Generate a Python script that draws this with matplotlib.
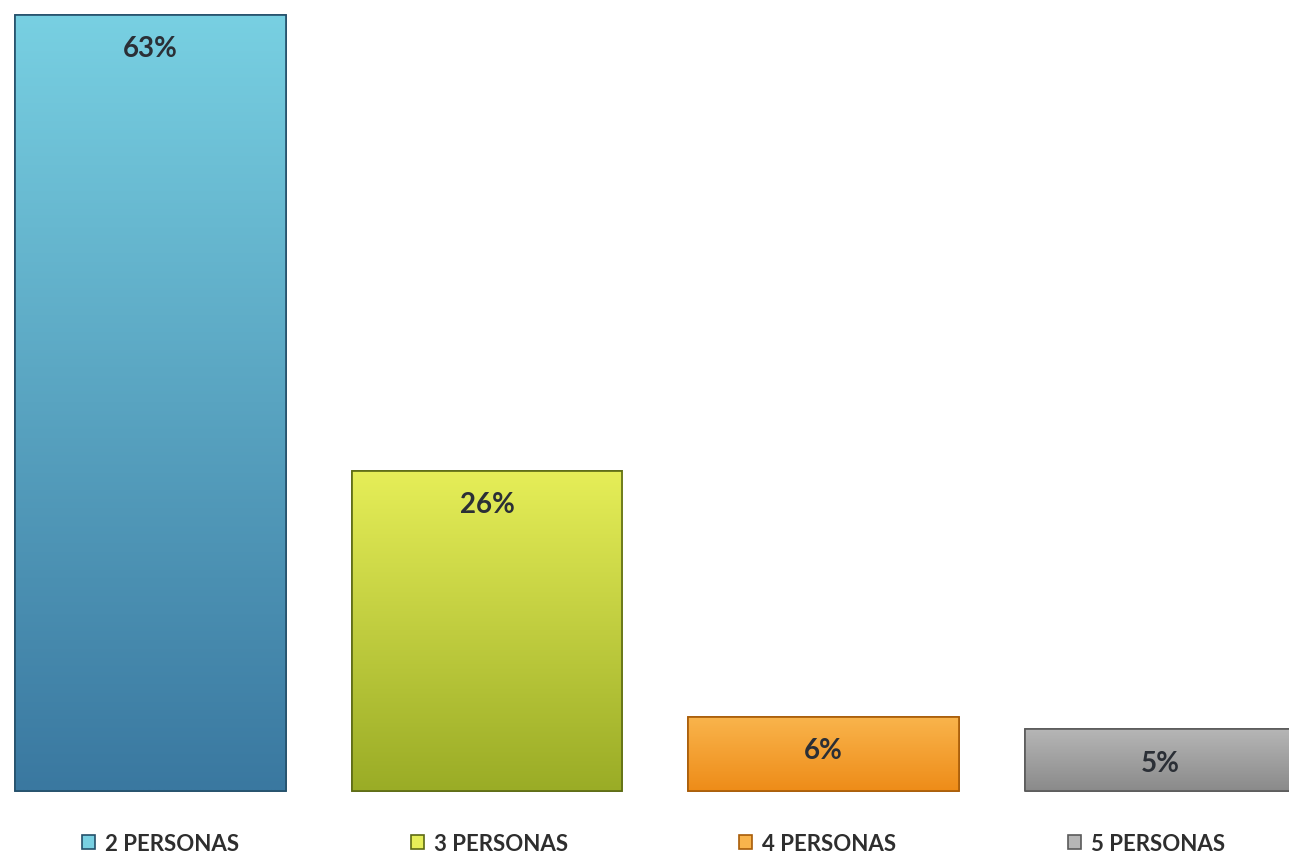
import numpy as np
import matplotlib.pyplot as plt
from matplotlib.colors import to_rgb

plt.rcParams['font.family'] = ['Lato', 'DejaVu Sans']

categories = ['2 PERSONAS', '3 PERSONAS', '4 PERSONAS', '5 PERSONAS']
values = [63, 26, 6, 5]
labels = ['63%', '26%', '6%', '5%']

# gradient top -> bottom, plus edge colour, for each bar
top_colors = ['#78d0e2', '#e6ee58', '#f9b44c', '#b6b6b6']
bottom_colors = ['#3a78a0', '#9aac26', '#ee8c18', '#8a8a8a']
edge_colors = ['#24506a', '#5c6a14', '#a85c08', '#5a5a5a']

fig = plt.figure(figsize=(12.89, 8.54), dpi=100)
ax = fig.add_axes([0, 0, 1, 1])

x = np.arange(len(values))
bars = ax.bar(x, values, width=0.805, color=top_colors, edgecolor=edge_colors,
              linewidth=1.2, zorder=2)

for i, b in enumerate(bars):
    bx, by = b.get_x(), b.get_y()
    bw, bh = b.get_width(), b.get_height()
    t = np.linspace(0, 1, 256)[:, None]
    c1 = np.array(to_rgb(top_colors[i]))
    c2 = np.array(to_rgb(bottom_colors[i]))
    grad = (1 - t)[:, :, None] * c1 + t[:, :, None] * c2
    im = ax.imshow(grad, extent=[bx, bx + bw, by, by + bh], aspect='auto',
                   origin='upper', zorder=2.5, interpolation='bilinear')
    im.set_clip_path(b)
    # redraw edge on top
    ax.bar(x[i], values[i], width=0.805, facecolor='none',
           edgecolor=edge_colors[i], linewidth=1.2, zorder=3)
    ax.annotate(labels[i], (x[i], values[i]), xytext=(0, -24),
                textcoords='offset points', ha='center', va='center',
                fontsize=20, fontweight='bold', color='#2b2f36', zorder=4)

ax.set_xlim(-0.447, 3.383)
ax.set_ylim(-5.03, 64.29)
ax.axis('off')

fig.legend(bars, categories, loc='center', bbox_to_anchor=(0.507, 0.011),
           ncol=4, frameon=False, prop={'size': 16, 'weight': 'bold'},
           handlelength=0.6, handleheight=0.6, handletextpad=0.45,
           columnspacing=7.7, labelcolor='#2e2e2e')

fig.savefig('out.png', dpi=100, facecolor='white')
